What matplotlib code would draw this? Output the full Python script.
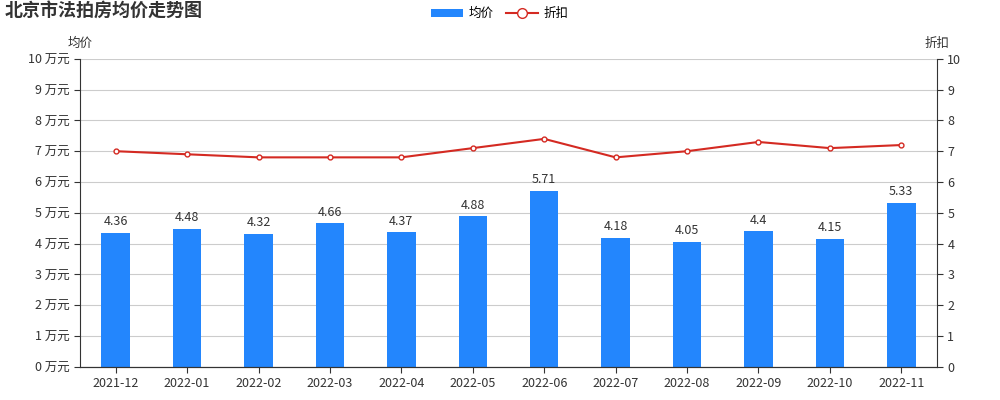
import matplotlib.pyplot as plt
from matplotlib.lines import Line2D
from matplotlib.patches import Patch

plt.rcParams['font.family'] = ['Noto Sans CJK SC', 'DejaVu Sans']

months = ['2021-12', '2022-01', '2022-02', '2022-03', '2022-04', '2022-05',
          '2022-06', '2022-07', '2022-08', '2022-09', '2022-10', '2022-11']
avg_price = [4.36, 4.48, 4.32, 4.66, 4.37, 4.88, 5.71, 4.18, 4.05, 4.4, 4.15, 5.33]
discount = [7.0, 6.9, 6.8, 6.8, 6.8, 7.1, 7.4, 6.8, 7.0, 7.3, 7.1, 7.2]

fig = plt.figure(figsize=(10, 4), dpi=100)
ax = fig.add_axes([0.08, 0.083, 0.857, 0.77])
ax2 = ax.twinx()

x = range(len(months))
ax.bar(x, avg_price, width=0.4, color='#2386fd', zorder=2)
for i, v in zip(x, avg_price):
    ax.text(i, v + 0.15, f'{v:g}', ha='center', va='bottom', fontsize=9, color='#333333')

ax2.plot(x, discount, color='#d42a22', lw=1.5, marker='o', ms=3.5,
         markerfacecolor='white', markeredgecolor='#d42a22', zorder=3)

ax.set_xlim(-0.5, len(months) - 0.5)
ax.set_ylim(0, 10)
ax2.set_ylim(0, 10)
ax.set_yticks(range(11))
ax.set_yticklabels([f'{i} 万元' for i in range(11)])
ax2.set_yticks(range(11))
ax.set_xticks(list(x))
ax.set_xticklabels(months)
ax.grid(axis='y', color='#cccccc', lw=0.8, zorder=0)
for a in (ax, ax2):
    a.spines['top'].set_visible(False)
    for s in ('left', 'right', 'bottom'):
        a.spines[s].set_color('#333333')
    a.tick_params(labelsize=9, colors='#333333', length=4)
ax.spines['right'].set_visible(False)
ax2.spines['left'].set_visible(False)

ax.text(0.0, 1.04, '均价', transform=ax.transAxes, ha='center', fontsize=9, color='#333333')
ax2.text(1.0, 1.04, '折扣', transform=ax.transAxes, ha='center', fontsize=9, color='#333333')

fig.text(0.005, 0.96, '北京市法拍房均价走势图', fontsize=13, fontweight='bold', color='#333333')

handles = [Patch(facecolor='#2386fd', label='均价'),
           Line2D([0], [0], color='#d42a22', marker='o', ms=7, markerfacecolor='white', label='折扣')]
fig.legend(handles=handles, loc='upper center', bbox_to_anchor=(0.5, 1.01), ncol=2,
           frameon=False, fontsize=9, handlelength=2.5, columnspacing=1.0, handletextpad=0.5)

fig.savefig('out.png')
